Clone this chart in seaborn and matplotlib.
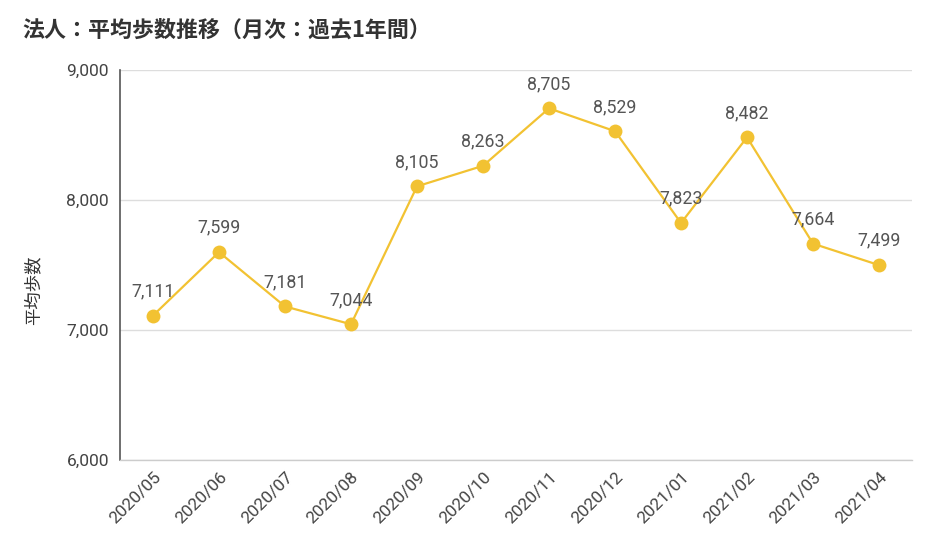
import matplotlib
matplotlib.use("Agg")
import matplotlib.pyplot as plt
import seaborn as sns
import pandas as pd

months = ["2020/05", "2020/06", "2020/07", "2020/08", "2020/09", "2020/10",
          "2020/11", "2020/12", "2021/01", "2021/02", "2021/03", "2021/04"]
steps = [7111, 7599, 7181, 7044, 8105, 8263, 8705, 8529, 7823, 8482, 7664, 7499]
yticks = [6000, 7000, 8000, 9000]

sns.set_theme(style="white")
plt.rcParams['font.family'] = ['Roboto', 'Noto Sans CJK JP', 'DejaVu Sans']

df = pd.DataFrame({"x": range(len(months)), "steps": steps})

fig = plt.figure(figsize=(9.28, 5.43), dpi=100)
ax = fig.add_axes([0.1293, 0.1529, 0.8535, 0.7182])

color = "#F2C232"
sns.lineplot(data=df, x="x", y="steps", ax=ax, color=color, linewidth=1.6,
             marker="o", markersize=10, markeredgewidth=0, zorder=3)

for i, v in enumerate(steps):
    ax.annotate(f"{v:,}", (i, v), xytext=(0, 11), textcoords="offset points",
                ha="center", va="bottom", fontsize=12.8, color="#555555")

ax.set_xlim(-0.5, len(months) - 0.5)
ax.set_ylim(6000, 9000)
ax.set_yticks(yticks)
ax.set_yticklabels([f"{t:,}" for t in yticks], fontsize=12.5, color="#444444")
ax.set_xticks(range(len(months)))
ax.set_xticklabels(months, rotation=45, ha="right", rotation_mode="anchor",
                   fontsize=12.5, color="#444444")
ax.tick_params(axis="x", length=0, pad=7)
ax.tick_params(axis="y", length=0, pad=8)
ax.grid(axis="y", color="#dddddd", linewidth=1)
ax.set_axisbelow(True)
for s in ["top", "right"]:
    ax.spines[s].set_visible(False)
ax.spines["left"].set_color("#555555")
ax.spines["left"].set_linewidth(1.2)
ax.spines["bottom"].set_color("#cccccc")
ax.spines["bottom"].set_linewidth(1)

ax.set_xlabel("")
ax.set_ylabel("平均歩数", fontsize=12.5, color="#333333",
              family=['Noto Sans CJK JP', 'DejaVu Sans'])
ax.yaxis.set_label_coords(-0.098, 0.435)

fig.text(0.024, 0.944, "法人：平均歩数推移（月次：過去1年間）", fontsize=15.8,
         fontweight="bold", color="#333333", va="center", ha="left",
         family=['Noto Sans CJK JP', 'DejaVu Sans'])

fig.savefig("out.png", dpi=100, facecolor="white")
